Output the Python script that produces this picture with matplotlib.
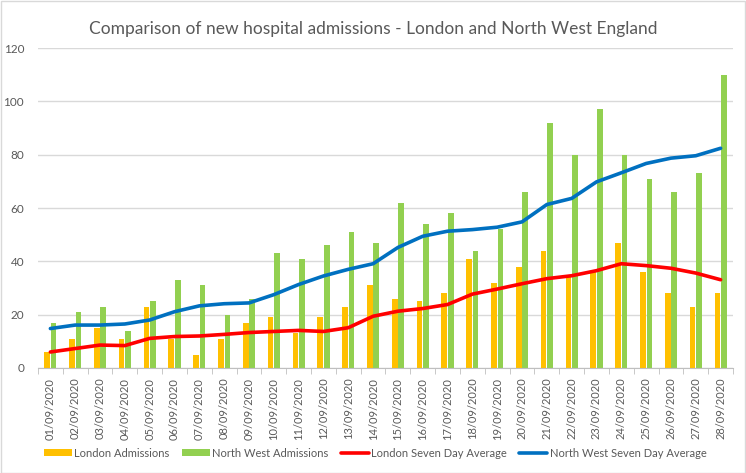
import matplotlib
matplotlib.use("Agg")
import matplotlib.pyplot as plt
import numpy as np
from matplotlib.patches import Rectangle

plt.rcParams['font.family'] = ['Lato', 'DejaVu Sans']

dates = ["%02d/09/2020" % d for d in range(1, 29)]
london = [6, 11, 15, 11, 23, 11, 5, 11, 17, 19, 13, 19, 23, 31,
          26, 25, 28, 41, 32, 38, 44, 35, 36, 47, 36, 28, 23, 28]
north_west = [17, 21, 23, 14, 25, 33, 31, 20, 26, 43, 41, 46, 51, 47,
              62, 54, 58, 44, 52, 66, 92, 80, 97, 80, 71, 66, 73, 110]
london_avg = [6.0, 7.3, 8.6, 8.4, 11.1, 11.8, 12.0, 12.6, 13.3, 13.7, 14.1, 13.7, 15.1, 19.4,
              21.3, 22.3, 23.8, 27.7, 29.6, 31.6, 33.5, 34.6, 36.5, 39.1, 38.4, 37.4, 35.6, 33.1]
nw_avg = [14.8, 16.1, 16.1, 16.5, 18.0, 21.1, 23.3, 24.1, 24.4, 27.5, 31.3, 34.5, 37.0, 39.1,
          45.2, 49.4, 51.3, 51.9, 52.8, 54.8, 61.3, 63.6, 69.8, 73.2, 76.7, 78.7, 79.6, 82.4]

grey = '#595959'
x = np.arange(len(dates))

fig = plt.figure(figsize=(7.46, 4.73), dpi=100)
ax = fig.add_axes([0.0509, 0.222, 0.9317, 0.6765])

b1 = ax.bar(x - 0.13, london, width=0.23, color='#FFC000', label='London Admissions', zorder=2)
b2 = ax.bar(x + 0.13, north_west, width=0.23, color='#92D050', label='North West Admissions', zorder=2)
l1, = ax.plot(x, london_avg, color='#FF0000', lw=2.6, label='London Seven Day Average', zorder=3,
              solid_capstyle='round')
l2, = ax.plot(x, nw_avg, color='#0070C0', lw=2.6, label='North West Seven Day Average', zorder=3,
              solid_capstyle='round')

ax.set_xlim(-0.5, len(dates) - 0.5)
ax.set_ylim(0, 120)
ax.set_yticks(range(0, 121, 20))
ax.yaxis.grid(True, color='#D9D9D9', lw=1)
ax.set_axisbelow(True)
for s in ['left', 'right', 'top']:
    ax.spines[s].set_visible(False)
ax.spines['bottom'].set_color('#BFBFBF')
ax.tick_params(axis='y', length=0, pad=10, labelsize=8.5, labelcolor=grey)
ax.set_xticks(x)
ax.set_xticklabels(dates, rotation=90, fontsize=8, color=grey)
ax.tick_params(axis='x', length=0, pad=7)
ax.set_xticks(np.arange(-0.5, len(dates)), minor=True)
ax.tick_params(axis='x', which='minor', length=4, color='#BFBFBF')

fig.suptitle('Comparison of new hospital admissions - London and North West England',
             y=0.955, fontsize=12.5, color=grey)

fig.legend(handles=[b1, b2, l1, l2], loc='center', bbox_to_anchor=(0.503, 0.042), ncol=4,
           frameon=False, fontsize=8, handlelength=2.5, columnspacing=1.1, handletextpad=0.25,
           handleheight=0.6, labelcolor=grey)

fig.patches.append(Rectangle((0.001, 0.001), 0.997, 0.997, transform=fig.transFigure,
                             fill=False, edgecolor='#D9D9D9', lw=1))

fig.savefig('out.png', dpi=100)
